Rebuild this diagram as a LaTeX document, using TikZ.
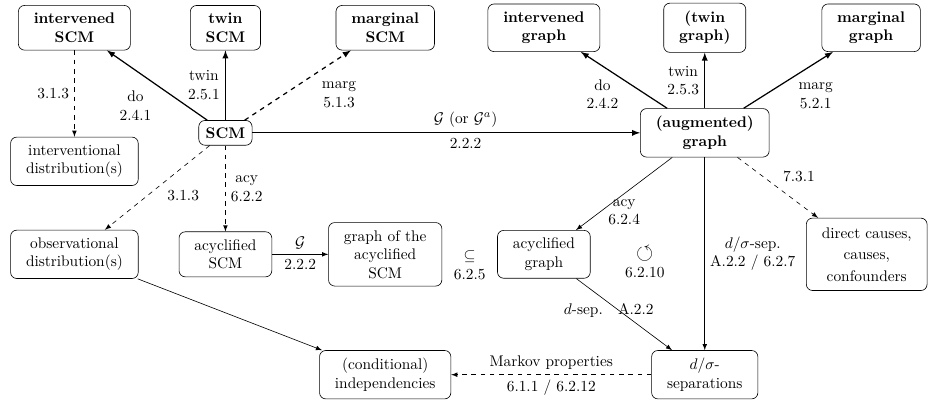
\documentclass[tikz,border=0pt]{standalone}
\usepackage{tikz}
\usetikzlibrary{arrows, calc}
\usepackage{amsmath}
\usepackage{amssymb}

\tikzset{
	box/.style={draw, rounded corners=4pt, align=center, inner xsep=10pt, inner ysep=5pt},
	bbox/.style={box, font=\bfseries},
	lbl/.style={align=center}
}

\begin{document}
\begin{tikzpicture}[x=5mm, y=5mm]
	\useasboundingbox (0,0) rectangle (42.4,18.27);
	\node [bbox] (intSCM) at (3.4,17) {intervened\\SCM};
	\node [bbox] (twinSCM) at (10.3,17) {twin\\SCM};
	\node [bbox] (margSCM) at (17.6,17) {marginal\\SCM};
	\node [bbox] (intG) at (24.85,17) {intervened\\graph};
	\node [bbox] (twinG) at (32.2,17) {(twin\\graph)};
	\node [bbox] (margG) at (39.8,17) {marginal\\graph};
	\node [bbox, inner sep=4.5pt] (SCM) at (10.3,12.2) {SCM};
	\node [bbox] (augG) at (32.2,12.2) {(augmented)\\graph};
	\node [box] (intDist) at (3.4,10.9) {interventional\\distribution(s)};
	\node [box] (obsDist) at (3.4,6.65) {observational\\distribution(s)};
	\node [box] (acySCM) at (10.3,6.65) {acyclified\\SCM};
	\node [box] (graphAcy) at (17.6,6.65) {graph of the\\acyclified\\SCM};
	\node [box] (acyG) at (24.85,6.65) {acyclified\\graph};
	\node [box, inner ysep=6pt] (causes) at (39.6,6.65) {direct causes,\\[2pt]causes,\\[2pt]confounders};
	\node [box] (indep) at (17.6,1.15) {(conditional)\\independencies};
	\node [box] (sep) at (32.2,1.15) {$d/\sigma$-\\separations};

	\draw [thick, -latex] (SCM) -- (intSCM) node [lbl, midway, below left] {do\\2.4.1};
	\draw [thick, -latex] (SCM) -- (twinSCM) node [lbl, midway, left] {twin\\2.5.1};
	\draw [thick, dashed, -latex] (SCM) -- (margSCM) node [lbl, midway, right, xshift=12pt, yshift=-6pt] {marg\\5.1.3};
	\draw [thick, -latex] (SCM) -- (augG)
		node [pos=.55, above] {$\mathcal{G}$ (or $\mathcal{G}^a$)}
		node [pos=.55, below] {2.2.2};
	\draw [dashed, -latex] (intSCM) -- (intDist) node [midway, left] {3.1.3};
	\draw [dashed, -latex] (SCM) -- (obsDist) node [midway, right, xshift=3pt, yshift=-5pt] {3.1.3};
	\draw [dashed, -latex] (SCM) -- (acySCM) node [lbl, midway, right] {acy\\6.2.2};
	\draw [-latex] (acySCM) -- (graphAcy)
		node [midway, above] {$\mathcal{G}$}
		node [midway, below] {2.2.2};
	\path (graphAcy) -- (acyG) node [lbl, midway, yshift=-7pt] {$\subseteq$\\6.2.5};

	\draw [thick, -latex] (augG) -- (intG) node [lbl, midway, below left, yshift=4pt] {do\\2.4.2};
	\draw [thick, -latex] (augG) -- (twinG) node [lbl, midway, left] {twin\\2.5.3};
	\draw [thick, -latex] (augG) -- (margG) node [lbl, midway, below right, xshift=3pt, yshift=2pt] {marg\\5.2.1};
	\draw [-latex] (augG) -- (acyG) node [lbl, midway, below] {acy\\6.2.4};
	\draw [-latex] (augG) -- (sep) node [lbl, midway, right] {$d/\sigma$-sep.\\A.2.2 / 6.2.7};
	\draw [dashed, -latex] (augG) -- (causes) node [midway, above right] {7.3.1};
	\draw [-latex] (acyG) -- (sep) node [midway, xshift=-10pt, yshift=2.5pt] {$d$-sep.\quad A.2.2};
	\path (29.46,6.3) node [lbl] (cyc) {{\Large$\circlearrowleft$}\\6.2.10};

	\draw [-latex] (obsDist) -- (indep);
	\draw [dashed, -latex] (sep) -- (indep)
		node [midway, above] {Markov properties}
		node [midway, below] {6.1.1 / 6.2.12};
\end{tikzpicture}
\end{document}
